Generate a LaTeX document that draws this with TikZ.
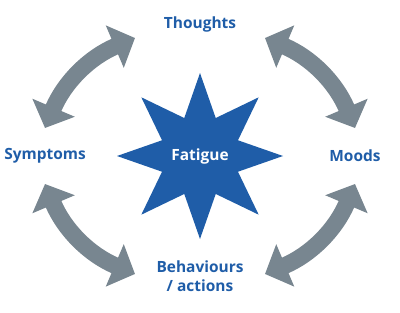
\documentclass[tikz,border=0pt]{standalone}
\usepackage{fontspec}
\setmainfont{Open Sans}
\usetikzlibrary{arrows.meta,shapes.geometric}
\definecolor{fgBlue}{RGB}{31,93,168}
\definecolor{fgGray}{RGB}{120,134,144}

\begin{document}
\begin{tikzpicture}[
      lbl/.style={text=fgBlue,font=\fontsize{11}{13.5}\selectfont\bfseries,align=center,inner sep=2pt},
      core/.style={star,star points=8,star point ratio=2.02,minimum size=4.15cm,inner sep=0pt,fill=fgBlue,text=white,font=\fontsize{11}{13.5}\selectfont\bfseries},
      arr/.style={{Triangle[length=0.55cm,width=1.12cm]}-{Triangle[length=0.55cm,width=1.12cm]},line width=0.42cm,draw=fgGray}
    ]
    \useasboundingbox (-5,-3.9) rectangle (5,3.9);
    \node[core] (fat)   at (0,0)      {Fatigue};
    \node[lbl]  (thou)  at (0,3.3)    {Thoughts};
    \node[lbl]  (symp)  at (-3.875,0) {Symptoms};
    \node[lbl]  (moods) at (3.875,0)  {Moods};
    \node[lbl]  (behav) at (0,-3.0)   {Behaviours\\ / actions};
    \draw[arr] ([yshift=0.7cm]symp.center) to[bend left=22] ([shift={(-1.625,-0.35)}]thou.center);
    \draw[arr] ([shift={(1.625,-0.35)}]thou.center) to[bend left=22] ([yshift=0.7cm]moods.center);
    \draw[arr] ([yshift=-0.7cm]moods.center) to[bend left=22] ([shift={(1.625,0.05)}]behav.center);
    \draw[arr] ([shift={(-1.625,0.05)}]behav.center) to[bend left=22] ([yshift=-0.7cm]symp.center);
  \end{tikzpicture}
\end{document}
